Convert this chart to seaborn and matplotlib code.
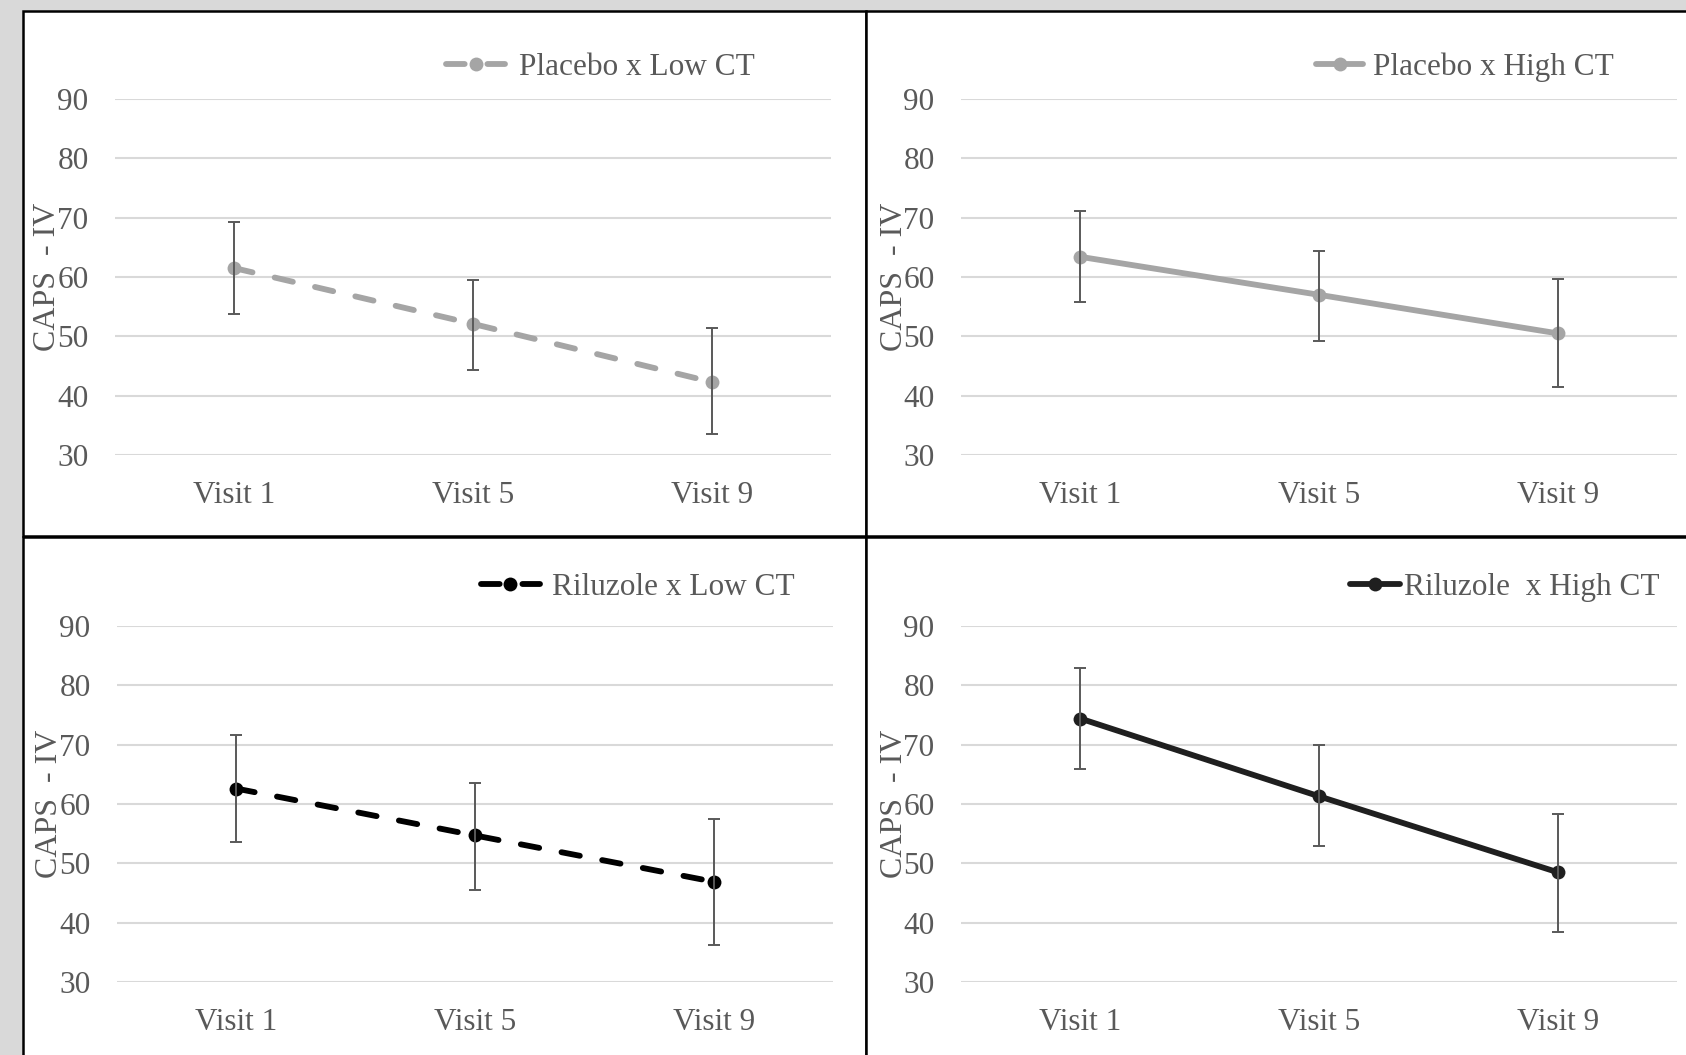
import numpy as np
import pandas as pd
import matplotlib
matplotlib.use("Agg")
import matplotlib.pyplot as plt
import seaborn as sns
from matplotlib.patches import Rectangle

# Data (CAPS-IV means with lower/upper error bar ends)
visits = ["Visit 1", "Visit 5", "Visit 9"]

placebo_low_mean = [61.5, 52.1, 42.3]
placebo_low_lo = [53.7, 44.3, 33.6]
placebo_low_hi = [69.2, 59.5, 51.4]

placebo_high_mean = [63.4, 57.0, 50.5]
placebo_high_lo = [55.8, 49.2, 41.4]
placebo_high_hi = [71.1, 64.4, 59.7]

riluzole_low_mean = [62.6, 54.7, 46.9]
riluzole_low_lo = [53.6, 45.5, 36.2]
riluzole_low_hi = [71.7, 63.5, 57.4]

riluzole_high_mean = [74.4, 61.3, 48.5]
riluzole_high_lo = [65.9, 52.9, 38.4]
riluzole_high_hi = [82.9, 70.0, 58.3]

yticks = [30, 40, 50, 60, 70, 80, 90]

sns.set_theme(style="white")
plt.rcParams["font.family"] = ["Liberation Serif", "DejaVu Serif"]

text_col = "#595959"
fig = plt.figure(figsize=(16.86, 10.55), dpi=100, facecolor="#D9D9D9")

# white panels with black frames (in pixels of the 1686x1055 figure)
W, H = 1686, 1055
for x0, y0, x1, y1 in [(23, 11, 866, 536), (866, 11, 1720, 536),
                       (23, 537, 866, 1090), (866, 537, 1720, 1090)]:
    fig.patches.append(Rectangle((x0 / W, 1 - y1 / H), (x1 - x0) / W, (y1 - y0) / H,
                                 transform=fig.transFigure, facecolor="white",
                                 edgecolor="black", linewidth=1.8, zorder=-5))

dash = (0, (3.2, 3.9))
panels = [
    dict(rect=(115, 99), mean=placebo_low_mean, lo=placebo_low_lo, hi=placebo_low_hi,
         color="#A5A5A5", ls=dash, label="Placebo x Low CT",
         leg=(0.894, 1.088), hl=1.9, hp=0.45),
    dict(rect=(961, 99), mean=placebo_high_mean, lo=placebo_high_lo, hi=placebo_high_hi,
         color="#A5A5A5", ls="-", label="Placebo x High CT",
         leg=(0.911, 1.088), hl=1.5, hp=0.3),
    dict(rect=(117, 626), mean=riluzole_low_mean, lo=riluzole_low_lo, hi=riluzole_low_hi,
         color="#000000", ls=dash, label="Riluzole x Low CT",
         leg=(0.947, 1.109), hl=1.9, hp=0.4),
    dict(rect=(961, 626), mean=riluzole_high_mean, lo=riluzole_high_lo, hi=riluzole_high_hi,
         color="#1F1F1F", ls="-", label="Riluzole  x High CT",
         leg=(0.975, 1.109), hl=1.6, hp=0.1),
]

for p in panels:
    left, top = p["rect"]
    ax = fig.add_axes([left / W, 1 - (top + 356) / H, 716 / W, 356 / H])
    ax.set_facecolor("none")
    df = pd.DataFrame({"visit": visits, "score": p["mean"]})
    sns.lineplot(data=df, x="visit", y="score", ax=ax, color=p["color"],
                 linestyle=p["ls"], linewidth=4.2, dash_capstyle="round",
                 marker="o", markersize=10, markeredgewidth=0,
                 label=p["label"], zorder=3)
    m = np.array(p["mean"])
    yerr = [m - np.array(p["lo"]), np.array(p["hi"]) - m]
    ax.errorbar(visits, m, yerr=yerr, fmt="none", ecolor=text_col,
                elinewidth=1.4, capsize=4.3, capthick=1.4, zorder=4)
    ax.set_xlim(-0.5, 2.5)
    ax.set_ylim(30, 90)
    ax.set_yticks(yticks)
    ax.yaxis.grid(True, color="#D9D9D9", linewidth=1.5)
    ax.set_axisbelow(True)
    for s in ax.spines.values():
        s.set_visible(False)
    ax.tick_params(axis="both", length=0, labelsize=22.5, labelcolor=text_col)
    ax.tick_params(axis="y", pad=19)
    ax.tick_params(axis="x", pad=19)
    ax.set_xlabel("")
    ax.set_ylabel("")
    ax.text(-67 / 716, 0.5, "CAPS  - IV", transform=ax.transAxes, rotation=90,
            ha="center", va="center", fontsize=23, color=text_col)
    leg = ax.legend(loc="center right", bbox_to_anchor=p["leg"], frameon=False,
                    fontsize=22.5, handlelength=p["hl"], handletextpad=p["hp"],
                    borderpad=0, borderaxespad=0)
    for t in leg.get_texts():
        t.set_color(text_col)

fig.savefig("out.png", dpi=100, facecolor=fig.get_facecolor())
